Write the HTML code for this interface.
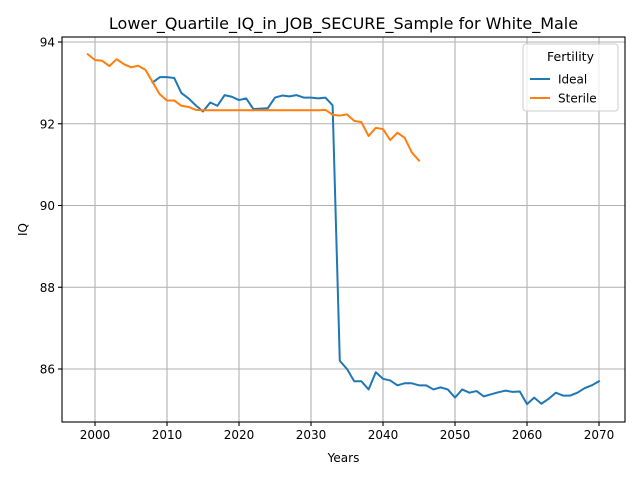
<!DOCTYPE html>
<html><head><meta charset="utf-8"><style>
body{margin:0;background:#fff;font-family:"Liberation Sans","DejaVu Sans",sans-serif}
</style></head><body>
<svg id="chart" width="640" height="480" xmlns="http://www.w3.org/2000/svg" font-family="DejaVu Sans, Liberation Sans, sans-serif">
<rect width="640" height="480" fill="#fff"/>
<g id="grid"></g>
<g id="series"></g>
<rect x="62" y="37" width="563" height="385" fill="none" stroke="#000" stroke-width="1.1"/>
<g id="ticks"></g>
<text x="343.5" y="29" text-anchor="middle" font-size="16">Lower_Quartile_IQ_in_JOB_SECURE_Sample for White_Male</text>
<text x="343.5" y="462" text-anchor="middle" font-size="12">Years</text>
<text x="27" y="229.5" text-anchor="middle" font-size="12" transform="rotate(-90 27 229.5)">IQ</text>
<g>
<rect x="523" y="44" width="95" height="67" rx="3" fill="#fff" fill-opacity="0.8" stroke="#ccc"/>
<text x="570.5" y="61" text-anchor="middle" font-size="12.5">Fertility</text>
<line x1="530" y1="79" x2="550" y2="79" stroke="#1f77b4" stroke-width="2"/>
<text x="558" y="83.5" font-size="12">Ideal</text>
<line x1="530" y1="98" x2="550" y2="98" stroke="#ff7f0e" stroke-width="2"/>
<text x="558" y="102.5" font-size="12">Sterile</text>
</g>
</svg>
<script>
const xTicks=[2000,2010,2020,2030,2040,2050,2060,2070];
const yTicks=[86,88,90,92,94];
const idealYears=[2008,2009,2010,2011,2012,2013,2014,2015,2016,2017,2018,2019,2020,2021,2022,2023,2024,2025,2026,2027,2028,2029,2030,2031,2032,2033,2034,2035,2036,2037,2038,2039,2040,2041,2042,2043,2044,2045,2046,2047,2048,2049,2050,2051,2052,2053,2054,2055,2056,2057,2058,2059,2060,2061,2062,2063,2064,2065,2066,2067,2068,2069,2070];
const idealIQ=[93.01,93.14,93.14,93.12,92.75,92.62,92.45,92.3,92.52,92.44,92.7,92.66,92.58,92.62,92.36,92.37,92.38,92.64,92.69,92.67,92.7,92.64,92.64,92.62,92.64,92.45,86.2,86.0,85.7,85.7,85.5,85.92,85.76,85.72,85.6,85.65,85.65,85.6,85.6,85.5,85.55,85.5,85.3,85.5,85.42,85.46,85.33,85.38,85.43,85.47,85.44,85.45,85.14,85.3,85.15,85.27,85.42,85.35,85.35,85.42,85.53,85.6,85.7];
const sterileYears=[1999,2000,2001,2002,2003,2004,2005,2006,2007,2008,2009,2010,2011,2012,2013,2014,2015,2016,2017,2018,2019,2020,2021,2022,2023,2024,2025,2026,2027,2028,2029,2030,2031,2032,2033,2034,2035,2036,2037,2038,2039,2040,2041,2042,2043,2044,2045];
const sterileIQ=[93.7,93.56,93.54,93.41,93.58,93.46,93.38,93.42,93.32,93.02,92.72,92.57,92.57,92.44,92.41,92.34,92.33,92.33,92.33,92.33,92.33,92.33,92.33,92.33,92.33,92.33,92.33,92.33,92.33,92.33,92.33,92.33,92.33,92.34,92.22,92.2,92.23,92.07,92.04,91.7,91.9,91.87,91.6,91.78,91.66,91.3,91.1];
const X=v=>95+(v-2000)*7.2;
const Y=v=>42+(94-v)*40.875;
const NS='http://www.w3.org/2000/svg';
const grid=document.getElementById('grid'),ticks=document.getElementById('ticks'),series=document.getElementById('series');
function mk(tag,attrs,parent){const e=document.createElementNS(NS,tag);for(const k in attrs)e.setAttribute(k,attrs[k]);parent.appendChild(e);return e;}
xTicks.forEach(t=>{
  const x=X(t);
  const g=mk('line',{x1:x,y1:37,x2:x,y2:422,stroke:'#b0b0b0','stroke-width':1.1},grid);
  
  
  mk('line',{x1:x,y1:422,x2:x,y2:426,stroke:'#000','stroke-width':1.1},ticks);
  const tx=mk('text',{x:x,y:439,'text-anchor':'middle','font-size':12},ticks);
  tx.textContent=t;
  
  
});
yTicks.forEach(t=>{
  const y=Y(t);
  const g=mk('line',{x1:62,y1:y,x2:625,y2:y,stroke:'#b0b0b0','stroke-width':1.1},grid);
  
  
  mk('line',{x1:58,y1:y,x2:62,y2:y,stroke:'#000','stroke-width':1.1},ticks);
  const tx=mk('text',{x:55,y:y+4.5,'text-anchor':'end','font-size':12},ticks);
  tx.textContent=t;
  
  
});
function line(xs,ys,color,name){
  const p=mk('polyline',{points:xs.map((v,i)=>X(v)+','+Y(ys[i])).join(' '),fill:'none',stroke:color,'stroke-width':2,'stroke-linejoin':'round','stroke-linecap':'square'},series);
  
  
}
line(idealYears,idealIQ,'#1f77b4','ideal-line');
line(sterileYears,sterileIQ,'#ff7f0e','sterile-line');
</script>
</body></html>
